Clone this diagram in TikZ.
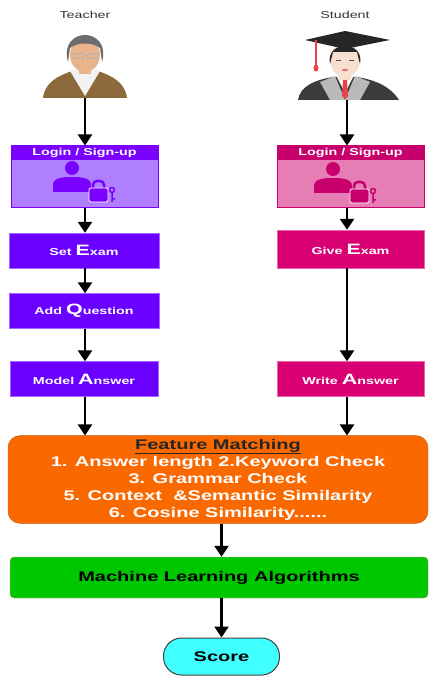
\documentclass[tikz,border=0pt]{standalone}
\usepackage{fontspec}
\setmainfont{Liberation Sans}[FakeStretch=1.43]
\usetikzlibrary{arrows.meta}

\definecolor{tdark}{HTML}{7A00FF}
\definecolor{tlight}{HTML}{B07FFF}
\definecolor{tstep}{HTML}{6A00FF}
\definecolor{sdark}{HTML}{C8006E}
\definecolor{slight}{HTML}{E77DB5}
\definecolor{sstep}{HTML}{D80073}
\definecolor{forange}{HTML}{FA6800}
\definecolor{mlgreen}{HTML}{00C800}
\definecolor{mlborder}{HTML}{C0504D}
\definecolor{scorecyan}{HTML}{3FFFFF}
\definecolor{skin}{HTML}{E9B48C}
\definecolor{paleskin}{HTML}{F8E0D0}
\definecolor{coat}{HTML}{8C6A3C}
\definecolor{robe}{HTML}{3C3C3C}
\definecolor{tassel}{HTML}{E8434B}

% bigger first letter of a word
\newcommand\capletter[1]{{\fontsize{15}{15}\selectfont #1}}

% user with padlock, #1 = head centre, #2 = colour
\newcommand\loginlogo[2]{%
\begin{scope}[shift={#1}]
\fill[#2] (0,0) circle (7);
\fill[#2] (-19,24) -- (-19,17) .. controls (-19,10) and (-10,9) .. (0,9) .. controls (10,9) and (19,10) .. (19,17) -- (19,24) -- cycle;
\draw[#2, line width=2.5pt, rounded corners=4pt] (21,22) -- (21,13) -- (32,13) -- (32,22);
\fill[#2, draw=white, line width=0.8pt, rounded corners=1.5pt] (17,20) rectangle (36,34);
\draw[#2, line width=1.5pt] (40,22) circle (2.5) (40,24.5) -- (40,34) (40,31) -- (43,31);
\end{scope}}

\tikzset{
  flow/.style={line width=2.4pt, -{Triangle[length=11pt,width=14pt]}},
  who/.style={font=\fontsize{10}{12}\selectfont, text=black!80},
  loginbox/.style={rectangle, minimum width=147pt, minimum height=61pt, line width=1pt, inner sep=0pt},
  loginhead/.style={rectangle, anchor=north, minimum width=147pt, minimum height=14pt, inner sep=0pt,
    text=white, font=\bfseries\fontsize{10}{11}\selectfont},
  tstepbox/.style={rectangle, fill=tstep, draw=tstep!60, text=white, inner sep=0pt,
    font=\bfseries\fontsize{10}{12}\selectfont, minimum width=150pt, minimum height=35pt},
  sstepbox/.style={tstepbox, fill=sstep, draw=sstep!60, minimum width=147pt},
  bigtext/.style={font=\bfseries\fontsize{14}{17}\selectfont},
}

\begin{document}
\begin{tikzpicture}[x=1pt,y=-1pt]
\useasboundingbox (0,0) rectangle (429,676);

%Teacher
\node[who] (tname) at (85,15) {Teacher};
\fill[coat] (43,98) .. controls (45,82) and (58,76) .. (72,71) -- (98,71) .. controls (112,76) and (125,82) .. (127,98) -- cycle;
\fill[white!90!gray] (70,71) -- (100,71) -- (85,96) -- cycle;
\fill[skin] (79,62) rectangle (91,74);
\fill[skin] (85,55) ellipse (15 and 17);
\fill[gray!85!black] (68,62) .. controls (58,26) and (112,26) .. (102,62) -- (100,48) .. controls (93,42) and (77,42) .. (70,48) -- cycle;
\draw[gray!60, line width=0.8pt] (73,53) rectangle (83,58) (87,53) rectangle (97,58) (83,55) -- (87,55);
\coordinate (teacher) at (85,98);

%Student
\node[who] (sname) at (345,15) {Student};
\fill[robe] (298,100) .. controls (300,86) and (315,80) .. (333,77) -- (357,77) .. controls (375,80) and (390,86) .. (399,100) -- cycle;
\fill[gray!55] (320,82) -- (335,76) -- (345,100) -- (330,100) -- cycle;
\fill[gray!55] (370,82) -- (355,76) -- (345,100) -- (360,100) -- cycle;
\fill[white] (337,77) -- (353,77) -- (345,93) -- cycle;
\fill[tassel] (343,80) -- (347,80) -- (348,96) -- (345,99) -- (342,96) -- cycle;
\fill[paleskin] (339,68) rectangle (351,80);
\fill[paleskin] (345,60) ellipse (15 and 17);
\fill[black!85] (330,64) .. controls (325,40) and (365,40) .. (360,64) -- (357,52) -- (333,52) -- cycle;
\fill[black!85] (305,40) -- (345,31) -- (390,40) -- (345,49) -- cycle;
\draw[tassel, line width=1.5pt] (316,40) -- (316,66);
\fill[tassel] (316,68) ellipse (2.5 and 3.5);
\draw[black!70, line width=0.7pt] (336,60) -- (341,60) (349,60) -- (354,60);
\fill[tassel!80] (345,70) ellipse (3 and 1.2);
\coordinate (student) at (347,100);

%Teacher Flow
\node[loginbox, fill=tlight, draw=tdark] (tlogin) at (84.5,176.5) {};
\node[loginhead, fill=tdark] (tloginhead) at (tlogin.north) {Login / Sign-up};
\loginlogo{(72,168)}{tdark}
\node[tstepbox] (setexam) at (84,250.5) {Set \capletter{E}xam};
\node[tstepbox] (addq) at (84,311) {Add \capletter{Q}uestion};
\node[tstepbox, minimum width=148pt] (tmodel) at (84,379) {Model \capletter{A}nswer};

%Student Flow
\node[loginbox, fill=slight, draw=sdark] (slogin) at (350.5,176.5) {};
\node[loginhead, fill=sdark] (sloginhead) at (slogin.north) {Login / Sign-up};
\loginlogo{(333,169)}{sdark}
\node[sstepbox, minimum height=38pt] (giveexam) at (350.5,249) {Give \capletter{E}xam};
\node[sstepbox] (swrite) at (350.5,379) {Write \capletter{A}nswer};

%Common Part
\node[rectangle, rounded corners=12pt, fill=forange, draw=forange!80!black, minimum width=420pt,
  minimum height=87pt, align=center, text=white, bigtext] (features) at (218,479.5)
  {\textcolor{black!85}{\underline{Feature Matching}}\\
   1. Answer length 2.Keyword Check\\
   3. Grammar Check\\
   5. Context\ \ \&Semantic Similarity\\
   6. Cosine Similarity......};
\node[rectangle, rounded corners=4pt, fill=mlgreen, draw=mlborder!70, minimum width=418pt,
  minimum height=41pt, bigtext] (mlalgo) at (219,577.5) {Machine Learning Algorithms};
\node[rectangle, rounded corners=18pt, fill=scorecyan, draw=black!75, line width=1pt,
  minimum width=116pt, minimum height=37pt, bigtext] (score) at (221.5,656.5) {Score};

%Arrows
\draw[flow] (teacher) -- (teacher |- tlogin.north);
\draw[flow] (teacher |- tlogin.south) -- (teacher |- setexam.north);
\draw[flow] (teacher |- setexam.south) -- (teacher |- addq.north);
\draw[flow] (teacher |- addq.south) -- (teacher |- tmodel.north);
\draw[flow] (teacher |- tmodel.south) -- (teacher |- features.north);
\draw[flow] (student) -- (student |- slogin.north);
\draw[flow] (student |- slogin.south) -- (student |- giveexam.north);
\draw[flow] (student |- giveexam.south) -- (student |- swrite.north);
\draw[flow] (student |- swrite.south) -- (student |- features.north);
\draw[flow] (score.north |- features.south) -- (score.north |- mlalgo.north);
\draw[flow] (score.north |- mlalgo.south) -- (score.north);
\end{tikzpicture}
\end{document}
